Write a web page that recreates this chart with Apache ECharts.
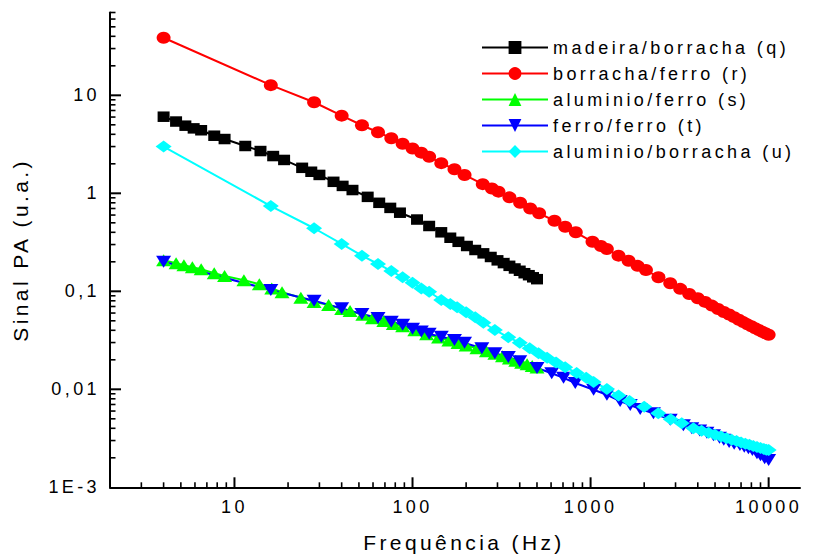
<!DOCTYPE html>
<html>
<head>
<meta charset="utf-8">
<title>Sinal PA vs Frequência</title>
<script src="https://cdn.jsdelivr.net/npm/echarts@6/dist/echarts.min.js"></script>
<style>
  html, body { margin: 0; padding: 0; background: #fff; }
  #chart { width: 814px; height: 556px; }
  #chart svg text { letter-spacing: 3.4px; }
</style>
</head>
<body>
<div id="chart"></div>
<script>
// Photoacoustic signal amplitude vs modulation frequency (log-log)
const xMin = 2, xMax = 15000;
const yMin = 0.001, yMax = 70;

const seriesNames = [
  'madeira/borracha (q)',
  'borracha/ferro (r)',
  'aluminio/ferro (s)',
  'ferro/ferro (t)',
  'aluminio/borracha (u)'
];

// madeira/borracha (q)
const madeiraFreq = [4, 4.7, 5.3, 5.9, 6.5, 7.7, 8.8, 11.5, 14, 16.5, 19, 24, 27, 30, 36, 40.5, 46, 56, 65, 75, 85, 106, 124, 145, 163, 181, 202, 225, 250, 275, 300, 325, 350, 375, 400, 425, 450, 475, 500];
const madeiraVal = [6.05, 5.4, 4.9, 4.6, 4.4, 3.87, 3.58, 3.04, 2.70, 2.40, 2.19, 1.82, 1.66, 1.54, 1.31, 1.19, 1.08, 0.92, 0.80, 0.71, 0.634, 0.54, 0.464, 0.40, 0.352, 0.32, 0.29, 0.264, 0.244, 0.224, 0.207, 0.194, 0.182, 0.171, 0.162, 0.153, 0.146, 0.139, 0.133];

// borracha/ferro (r)
const borrachaFerroFreq = [4, 16, 28, 40, 52, 64, 76, 88, 100, 112, 124, 145, 172, 196, 248, 279, 304, 350, 402, 458, 514, 627, 720, 826, 1025, 1143, 1234, 1435, 1634, 1836, 2046, 2405, 2800, 3186, 3580, 4000, 4400, 4800, 5200, 5600, 6000, 6400, 6800, 7200, 7600, 8000, 8400, 8800, 9200, 9600, 10000];
const borrachaFerroVal = [38.7, 12.7, 8.5, 6.2, 4.95, 4.2, 3.65, 3.2, 2.87, 2.6, 2.36, 2.03, 1.76, 1.54, 1.24, 1.12, 1.04, 0.91, 0.80, 0.70, 0.625, 0.525, 0.456, 0.40, 0.32, 0.29, 0.27, 0.231, 0.205, 0.182, 0.165, 0.139, 0.121, 0.106, 0.094, 0.085, 0.078, 0.0715, 0.066, 0.0615, 0.058, 0.0545, 0.0513, 0.0485, 0.046, 0.044, 0.042, 0.0403, 0.0387, 0.0373, 0.036];

// aluminio/ferro (s)
const aluminioFerroFreq = [4, 4.7, 5.2, 5.8, 6.5, 7.7, 8.8, 11.3, 13.8, 16.2, 18.5, 23.6, 28, 33.8, 40, 44.6, 52.6, 59.6, 69, 78, 88, 103, 120, 140, 160, 180, 200, 230, 260, 290, 320, 350, 380, 410, 440, 470, 500];
const aluminioFerroVal = [0.208, 0.193, 0.185, 0.176, 0.168, 0.153, 0.143, 0.130, 0.118, 0.107, 0.098, 0.086, 0.078, 0.0725, 0.066, 0.063, 0.0575, 0.053, 0.0497, 0.0465, 0.044, 0.040, 0.0365, 0.0338, 0.0315, 0.0296, 0.028, 0.0262, 0.0245, 0.023, 0.0218, 0.0206, 0.0196, 0.0187, 0.018, 0.0173, 0.0167];

// ferro/ferro (t)
const ferroFerroFreq = [4, 16, 28, 40, 52, 64, 76, 88, 100, 112, 124, 145, 172, 196, 245, 290, 345, 400, 500, 605, 705, 820, 1040, 1235, 1465, 1670, 1900, 2255, 2800, 3320, 3700, 4100, 4500, 4900, 5300, 5600, 6000, 6400, 6900, 7300, 7700, 8100, 8600, 9000, 9500, 10000];
const ferroFerroVal = [0.20, 0.103, 0.080, 0.067, 0.0587, 0.0535, 0.049, 0.0455, 0.0415, 0.0388, 0.0368, 0.0344, 0.0318, 0.0298, 0.0262, 0.0233, 0.0213, 0.0193, 0.0165, 0.0146, 0.0131, 0.0116, 0.0099, 0.0088, 0.0076, 0.0069, 0.0063, 0.0057, 0.0049, 0.0043, 0.0040, 0.0038, 0.0036, 0.0034, 0.0032, 0.00305, 0.0029, 0.00278, 0.0027, 0.0026, 0.0025, 0.0024, 0.00223, 0.00212, 0.00198, 0.0019];

// aluminio/borracha (u)
const aluminioBorrachaFreq = [4, 16, 28, 40, 52, 64, 76, 88, 100, 112, 124, 145, 163, 178, 200, 225, 250, 290, 345, 400, 455, 510, 570, 640, 720, 835, 945, 1040, 1235, 1435, 1655, 2000, 2400, 2820, 3250, 3780, 4200, 4600, 5000, 5400, 5800, 6200, 6600, 7000, 7400, 7800, 8200, 8600, 9000, 9400, 9700, 10000];
const aluminioBorrachaVal = [3.0, 0.741, 0.44, 0.304, 0.231, 0.19, 0.161, 0.139, 0.122, 0.107, 0.099, 0.0815, 0.0742, 0.0687, 0.061, 0.0543, 0.0478, 0.0403, 0.0339, 0.0299, 0.0262, 0.0233, 0.021, 0.0188, 0.0168, 0.0147, 0.0131, 0.0119, 0.0101, 0.00865, 0.0076, 0.00665, 0.0057, 0.00494, 0.0045, 0.0040, 0.00378, 0.0036, 0.00343, 0.00329, 0.00317, 0.00306, 0.00296, 0.00287, 0.00279, 0.00271, 0.00264, 0.00258, 0.00252, 0.00246, 0.00242, 0.0024];

// decades that carry labelled ticks
const xDecades = [1, 10, 100, 1000, 10000];
const yDecades = [0.001, 0.01, 0.1, 1, 10];

const FONT = '"Liberation Sans", Arial, sans-serif';

function pairs(fs, vs) { return fs.map((f, i) => [f, vs[i]]); }

// log-style tick positions (1..9 x 10^k) kept inside the axis range
function logTicks(decades, lo, hi) {
  const out = [];
  decades.forEach(d => {
    for (let m = 1; m <= 9; m++) {
      const v = +(d * m).toPrecision(6);
      if (v >= lo * 0.9999 && v <= hi * 1.0001) out.push({ v, major: m === 1 });
    }
  });
  return out;
}
const xTickData = logTicks(xDecades, xMin, xMax)
  .filter(t => t.v > xMin * 1.001)
  .map(t => [t.v, yMin, t.major ? 10 : 5]);
const yTickData = logTicks(yDecades, yMin, yMax)
  .filter(t => t.v > yMin * 1.001)
  .map(t => [xMin, t.v, t.major ? 11 : 5.5]);

function isDecade(v) {
  const l = Math.log10(v);
  return Math.abs(l - Math.round(l)) < 1e-6;
}

const lineSeries = (name, data, color, symbol, size, extra) => Object.assign({
  name, type: 'line', data,
  symbol, symbolSize: size,
  showSymbol: true,
  lineStyle: { color, width: 2 },
  itemStyle: { color },
  emphasis: { disabled: true },
  animation: false,
  z: 3
}, extra || {});

const chart = echarts.init(document.getElementById('chart'), null, { renderer: 'svg' });

chart.setOption({
  backgroundColor: '#fff',
  animation: false,
  grid: { left: 110, right: 14, top: 12.5, bottom: 68.7, containLabel: false, outerBoundsMode: 'none' },
  legend: {
    data: seriesNames,
    orient: 'vertical',
    left: 481,
    top: 38.5,
    padding: 0,
    itemWidth: 66,
    itemHeight: 16,
    itemGap: 8,
    textStyle: { fontSize: 18, color: '#000', fontFamily: FONT },
    selectedMode: false
  },
  xAxis: {
    type: 'log',
    logBase: 10,
    min: xMin,
    max: xMax,
    name: 'Frequência (Hz)',
    nameLocation: 'middle',
    nameGap: 45,
    nameTextStyle: { fontSize: 21, color: '#000', fontFamily: FONT, padding: [0, 0, 0, 18] },
    axisLine: { show: true, lineStyle: { color: '#000', width: 2 } },
    axisTick: { show: false },
    minorTick: { show: false },
    splitLine: { show: false },
    axisLabel: {
      fontSize: 18, color: '#000', fontFamily: FONT, margin: 11,
      formatter: v => isDecade(v) ? String(Math.round(v)) : ''
    }
  },
  yAxis: {
    type: 'log',
    logBase: 10,
    min: yMin,
    max: yMax,
    name: 'Sinal PA (u.a.)',
    nameLocation: 'middle',
    nameGap: 79,
    nameRotate: 90,
    nameTextStyle: { fontSize: 21, color: '#000', fontFamily: FONT },
    axisLine: { show: true, lineStyle: { color: '#000', width: 2 } },
    axisTick: { show: false },
    minorTick: { show: false },
    splitLine: { show: false },
    axisLabel: {
      fontSize: 18, color: '#000', fontFamily: FONT, margin: 10,
      formatter: v => {
        if (!isDecade(v)) return '';
        const e = Math.round(Math.log10(v));
        if (e <= -3) return '1E' + e;
        if (e >= 0) return String(Math.round(v));
        return '0,' + '0'.repeat(-e - 1) + '1';
      }
    }
  },
  series: [
    lineSeries(seriesNames[0], pairs(madeiraFreq, madeiraVal), '#000000', 'rect', [12, 10.5]),
    lineSeries(seriesNames[1], pairs(borrachaFerroFreq, borrachaFerroVal), '#ff0000', 'circle', [14, 12]),
    lineSeries(seriesNames[2], pairs(aluminioFerroFreq, aluminioFerroVal), '#00ff00', 'triangle', [15, 12]),
    lineSeries(seriesNames[3], pairs(ferroFerroFreq, ferroFerroVal), '#0000ff', 'triangle', [15, 12], { symbolRotate: 180 }),
    lineSeries(seriesNames[4], pairs(aluminioBorrachaFreq, aluminioBorrachaVal), '#00ffff', 'diamond', [16, 12]),
    {
      // inside ticks of the frequency axis
      type: 'custom', silent: true, clip: false, animation: false, z: 2,
      data: xTickData,
      renderItem: (params, api) => {
        const p = api.coord([api.value(0), api.value(1)]);
        const len = api.value(2);
        return { type: 'line', shape: { x1: p[0], y1: p[1], x2: p[0], y2: p[1] - len },
          style: { stroke: '#000', lineWidth: len > 6 ? 2 : 1.6 } };
      }
    },
    {
      // inside ticks of the signal axis
      type: 'custom', silent: true, clip: false, animation: false, z: 2,
      data: yTickData,
      renderItem: (params, api) => {
        const p = api.coord([api.value(0), api.value(1)]);
        const len = api.value(2);
        return { type: 'line', shape: { x1: p[0], y1: p[1], x2: p[0] + len, y2: p[1] },
          style: { stroke: '#000', lineWidth: len > 6 ? 2 : 1.6 } };
      }
    }
  ]
});
</script>
</body>
</html>
